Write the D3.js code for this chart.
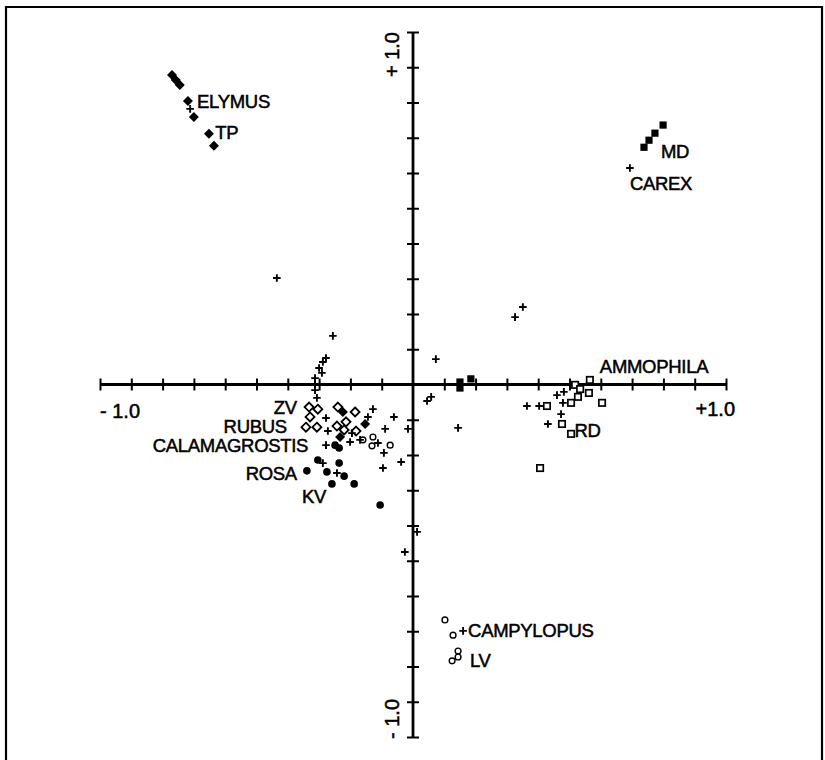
<!DOCTYPE html>
<html>
<head>
<meta charset="utf-8">
<script src="https://cdn.jsdelivr.net/npm/d3@7/dist/d3.min.js"></script>
<style>
  html, body { margin: 0; padding: 0; background: #fff; }
  svg { display: block; }
  text { font-family: "Liberation Sans", Arial, sans-serif; fill: #000; }
</style>
</head>
<body>
<svg id="chart" width="825" height="760"></svg>
<script>
// ---------- data (ordination scores, axis units -1..+1) ----------
const tickValues = [-1.0,-0.9,-0.8,-0.7,-0.6,-0.5,-0.4,-0.3,-0.2,-0.1,0.1,0.2,0.3,0.4,0.5,0.6,0.7,0.8,0.9,1.0];

// filled diamonds (ELYMUS / TP group)
const filledDiamonds = [
  [-0.770, 0.878], [-0.758, 0.864], [-0.745, 0.850],
  [-0.719, 0.804], [-0.700, 0.759], [-0.652, 0.711], [-0.636, 0.677],
  [-0.224, -0.078], [-0.233, -0.149], [-0.153, -0.112]
];
// filled squares (MD group)
const filledSquares = [
  [0.799, 0.736], [0.773, 0.713], [0.754, 0.693], [0.738, 0.673],
  [0.150, 0.007], [0.150, -0.010], [0.185, 0.016]
];
// open squares (RD / AMMOPHILA group)
const openSquares = [
  [0.565, 0.013], [0.518, -0.001], [0.534, -0.013], [0.562, -0.024],
  [0.527, -0.035], [0.505, -0.052], [0.604, -0.052], [0.428, -0.061],
  [0.476, -0.112], [0.505, -0.140], [0.406, -0.237]
];
// open diamonds (ZV / RUBUS group)
const openDiamonds = [
  [-0.332, -0.064], [-0.304, -0.070], [-0.329, -0.092], [-0.342, -0.121],
  [-0.307, -0.121], [-0.240, -0.064], [-0.243, -0.118], [-0.214, -0.106],
  [-0.220, -0.129], [-0.185, -0.078], [-0.182, -0.132]
];
// filled circles (KV / ROSA group)
const filledCircles = [
  [-0.249, -0.172], [-0.236, -0.180], [-0.304, -0.214], [-0.236, -0.223],
  [-0.339, -0.245], [-0.275, -0.248], [-0.220, -0.260], [-0.259, -0.282],
  [-0.188, -0.282], [-0.105, -0.342]
];
// open circles (LV group)
const openCircles = [
  [-0.160, -0.157], [-0.128, -0.149], [-0.131, -0.174], [-0.073, -0.172],
  [0.102, -0.668], [0.128, -0.711], [0.144, -0.756], [0.144, -0.773], [0.125, -0.784]
];
// species (plus markers)
const species = [
  [-0.435, 0.302], [-0.256, 0.138], [-0.278, 0.075], [-0.288, 0.064],
  [-0.300, 0.047], [-0.291, 0.033], [-0.313, 0.018], [-0.313, -0.001],
  [-0.313, -0.016], [-0.307, -0.038], [-0.712, 0.782], [0.693, 0.614],
  [0.326, 0.191], [0.351, 0.220], [0.073, 0.072], [0.045, -0.047],
  [0.058, -0.035], [0.144, -0.123], [0.013, -0.418], [-0.026, -0.475],
  [0.160, -0.699], [0.364, -0.061], [0.403, -0.061], [0.460, -0.030],
  [0.482, -0.021], [0.479, -0.052], [0.473, -0.084], [0.431, -0.112],
  [-0.278, -0.095], [-0.128, -0.070], [-0.144, -0.092], [-0.061, -0.092],
  [-0.016, -0.126], [-0.089, -0.126], [-0.272, -0.132], [-0.201, -0.163],
  [-0.278, -0.172], [-0.169, -0.157], [-0.112, -0.166], [-0.093, -0.194],
  [-0.038, -0.220], [-0.096, -0.237], [-0.288, -0.223], [-0.243, -0.251],
  [-0.195, -0.138]
];
// labels: text, x, y (axis units), anchor
const labelText   = ["ELYMUS", "TP", "MD", "CAREX", "AMMOPHILA", "RD", "ZV", "RUBUS", "CALAMAGROSTIS", "ROSA", "KV", "CAMPYLOPUS", "LV"];
const labelX      = [-0.690, -0.632, 0.792, 0.693, 0.597, 0.516, -0.371, -0.403, -0.335, -0.371, -0.355, 0.176, 0.182];
const labelY      = [0.784, 0.696, 0.643, 0.553, 0.033, -0.149, -0.083, -0.137, -0.191, -0.270, -0.336, -0.716, -0.801];
const labelAnchor = ["start", "start", "start", "start", "start", "start", "end", "end", "end", "end", "start", "start", "start"];

// ---------- chart ----------
const svg = d3.select("#chart");
const x = d3.scaleLinear().domain([-1, 1]).range([100, 726]);
const y = d3.scaleLinear().domain([-1, 1]).range([737, 32]);
const x0 = x(0), y0 = y(0);

// frame (left, top, right)
svg.append("path")
  .attr("d", "M6,760 L6,7 L822,7 L822,760")
  .attr("fill", "none").attr("stroke", "#000").attr("stroke-width", 2.2);

// axes with ticks crossing the lines
const tk = 6;
const gx = svg.append("g").attr("transform", `translate(0,${y0 - tk})`)
  .call(d3.axisBottom(x).tickValues(tickValues).tickSize(2 * tk).tickFormat(""));
const gy = svg.append("g").attr("transform", `translate(${x0 + tk},0)`)
  .call(d3.axisLeft(y).tickValues(tickValues).tickSize(2 * tk).tickFormat(""));
[gx, gy].forEach(g => {
  g.select(".domain").remove();
  g.selectAll(".tick line").attr("stroke", "#000").attr("stroke-width", 2);
});
svg.append("line").attr("x1", x(-1)).attr("x2", x(1)).attr("y1", y0).attr("y2", y0)
  .attr("stroke", "#000").attr("stroke-width", 2.8);
svg.append("line").attr("x1", x0).attr("x2", x0).attr("y1", y(1)).attr("y2", y(-1))
  .attr("stroke", "#000").attr("stroke-width", 2.8);

// axis end labels
const axisLabel = (sel) => sel.attr("font-size", 20).attr("stroke", "#000").attr("stroke-width", 0.5);
svg.append("text").attr("x", x(-1)).attr("y", y0 + 33)
  .attr("text-anchor", "start").text("- 1.0").call(axisLabel);
svg.append("text").attr("x", x(1) + 9).attr("y", y0 + 31)
  .attr("text-anchor", "end").text("+1.0").call(axisLabel);
svg.append("text").attr("transform", `translate(${x0 - 14},${y(1)}) rotate(-90)`)
  .attr("text-anchor", "end").text("+ 1.0").call(axisLabel);
svg.append("text").attr("transform", `translate(${x0 - 14},${y(-1) + 2}) rotate(-90)`)
  .attr("text-anchor", "start").text("- 1.0").call(axisLabel);

// markers
const g = svg.append("g");
const diamond = (s) => `M0,${-s}L${s},0L0,${s}L${-s},0Z`;

g.selectAll(".od").data(openDiamonds).join("path")
  .attr("transform", d => `translate(${x(d[0])},${y(d[1])})`)
  .attr("d", diamond(4.5)).attr("fill", "#fff").attr("stroke", "#000").attr("stroke-width", 1.8);

g.selectAll(".os").data(openSquares).join("rect")
  .attr("x", d => x(d[0]) - 3.2).attr("y", d => y(d[1]) - 3.2)
  .attr("width", 6.4).attr("height", 6.4)
  .attr("fill", "#fff").attr("stroke", "#000").attr("stroke-width", 1.7);

g.selectAll(".oc").data(openCircles).join("circle")
  .attr("cx", d => x(d[0])).attr("cy", d => y(d[1])).attr("r", 2.9)
  .attr("fill", "#fff").attr("stroke", "#000").attr("stroke-width", 1.4);

g.selectAll(".fc").data(filledCircles).join("circle")
  .attr("cx", d => x(d[0])).attr("cy", d => y(d[1])).attr("r", 3.8)
  .attr("fill", "#000");

g.selectAll(".fd").data(filledDiamonds).join("path")
  .attr("transform", d => `translate(${x(d[0])},${y(d[1])})`)
  .attr("d", diamond(5)).attr("fill", "#000");

g.selectAll(".fs").data(filledSquares).join("rect")
  .attr("x", d => x(d[0]) - 3.6).attr("y", d => y(d[1]) - 3.6)
  .attr("width", 7.2).attr("height", 7.2).attr("fill", "#000");

g.selectAll(".sp").data(species).join("path")
  .attr("transform", d => `translate(${x(d[0])},${y(d[1])})`)
  .attr("d", "M-3.8,0H3.8M0,-3.8V3.8")
  .attr("stroke", "#000").attr("stroke-width", 1.9).attr("fill", "none");

// labels
svg.append("g").selectAll("text").data(labelText).join("text")
  .attr("x", (d, i) => x(labelX[i])).attr("y", (d, i) => y(labelY[i]))
  .attr("text-anchor", (d, i) => labelAnchor[i])
  .attr("font-size", 18.5).attr("letter-spacing", -0.3)
  .attr("stroke", "#000").attr("stroke-width", 0.5)
  .text(d => d);
</script>
</body>
</html>
